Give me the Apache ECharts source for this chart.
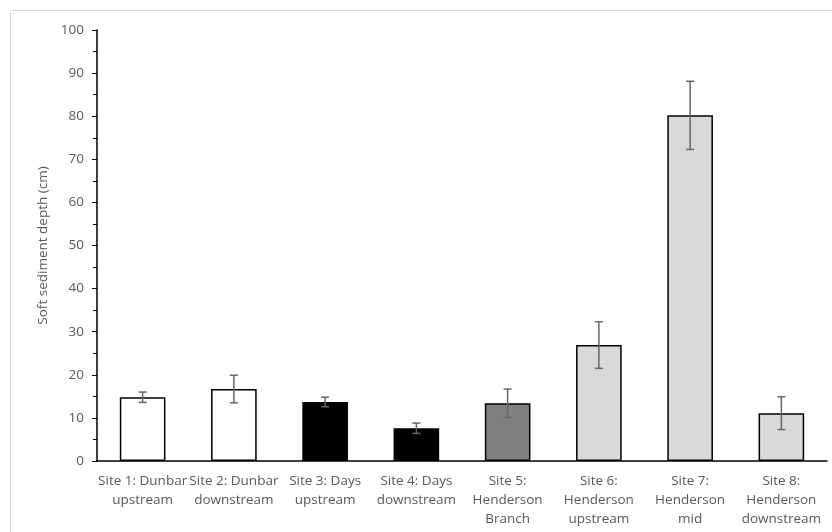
<!DOCTYPE html>
<html>
<head>
<meta charset="utf-8">
<script src="https://cdn.jsdelivr.net/npm/echarts@6/dist/echarts.min.js"></script>
<style>
  html, body { margin: 0; padding: 0; background: #fff; }
  #chart { width: 832px; height: 532px; }
</style>
</head>
<body>
<div id="chart"></div>
<script>
// Site labels along the x axis
const sites = [
  'Site 1: Dunbar\nupstream',
  'Site 2: Dunbar\ndownstream',
  'Site 3: Days\nupstream',
  'Site 4: Days\ndownstream',
  'Site 5:\nHenderson\nBranch',
  'Site 6:\nHenderson\nupstream',
  'Site 7:\nHenderson\nmid',
  'Site 8:\nHenderson\ndownstream'
];
// Mean soft sediment depth (cm)
const depthMean = [14.8, 16.7, 13.7, 7.6, 13.4, 26.9, 80.2, 11.1];
// Error (± cm)
const depthErr = [1.2, 3.2, 1.1, 1.2, 3.3, 5.4, 7.9, 3.8];
// Bar fill per site
const fillColors = ['#ffffff', '#ffffff', '#000000', '#000000', '#7f7f7f', '#d9d9d9', '#d9d9d9', '#d9d9d9'];

const chart = echarts.init(document.getElementById('chart'));

const labelFont = '"Open Sans", "Liberation Sans", sans-serif';

chart.setOption({
  animation: false,
  backgroundColor: '#ffffff',
  graphic: [{
    type: 'rect',
    shape: { x: 10.5, y: 10.5, width: 830, height: 530 },
    style: { fill: 'none', stroke: '#d9d9d9', lineWidth: 1 },
    silent: true
  }],
  grid: { left: 97, right: 5, top: 30, bottom: 71 },
  xAxis: {
    type: 'category',
    data: sites,
    axisLine: { lineStyle: { color: '#000000', width: 1.5 } },
    axisTick: { show: false },
    axisLabel: {
      color: '#595959',
      fontFamily: labelFont,
      fontSize: 13.5,
      lineHeight: 19,
      interval: 0,
      margin: 11
    }
  },
  yAxis: {
    type: 'value',
    min: 0,
    max: 100,
    interval: 10,
    name: 'Soft sediment depth (cm)',
    nameLocation: 'middle',
    nameGap: 47,
    nameTextStyle: { color: '#595959', fontFamily: labelFont, fontSize: 13.5 },
    axisLine: { show: true, lineStyle: { color: '#000000', width: 1.5 } },
    axisTick: { show: true, inside: false, length: 5, lineStyle: { color: '#000000' } },
    minorTick: { show: true, splitNumber: 2, length: 4, lineStyle: { color: '#000000' } },
    splitLine: { show: false },
    axisLabel: {
      color: '#595959',
      fontFamily: labelFont,
      fontSize: 13.5,
      margin: 13
    }
  },
  series: [
    {
      type: 'bar',
      barWidth: '50%',
      data: depthMean.map((v, i) => ({
        value: v,
        itemStyle: { color: fillColors[i], borderColor: '#000000', borderWidth: 1.5 }
      })),
      z: 2
    },
    {
      type: 'custom',
      z: 3,
      data: depthMean.map((v, i) => [i, v - depthErr[i], v + depthErr[i]]),
      renderItem: function (params, api) {
        const x = api.value(0);
        const lo = api.coord([x, api.value(1)]);
        const hi = api.coord([x, api.value(2)]);
        const half = 4;
        const style = { stroke: '#666666', lineWidth: 1.5, fill: 'none' };
        return {
          type: 'group',
          children: [
            { type: 'line', shape: { x1: hi[0], y1: hi[1], x2: lo[0], y2: lo[1] }, style: style },
            { type: 'line', shape: { x1: hi[0] - half, y1: hi[1], x2: hi[0] + half, y2: hi[1] }, style: style },
            { type: 'line', shape: { x1: lo[0] - half, y1: lo[1], x2: lo[0] + half, y2: lo[1] }, style: style }
          ]
        };
      }
    }
  ]
});
</script>
</body>
</html>
